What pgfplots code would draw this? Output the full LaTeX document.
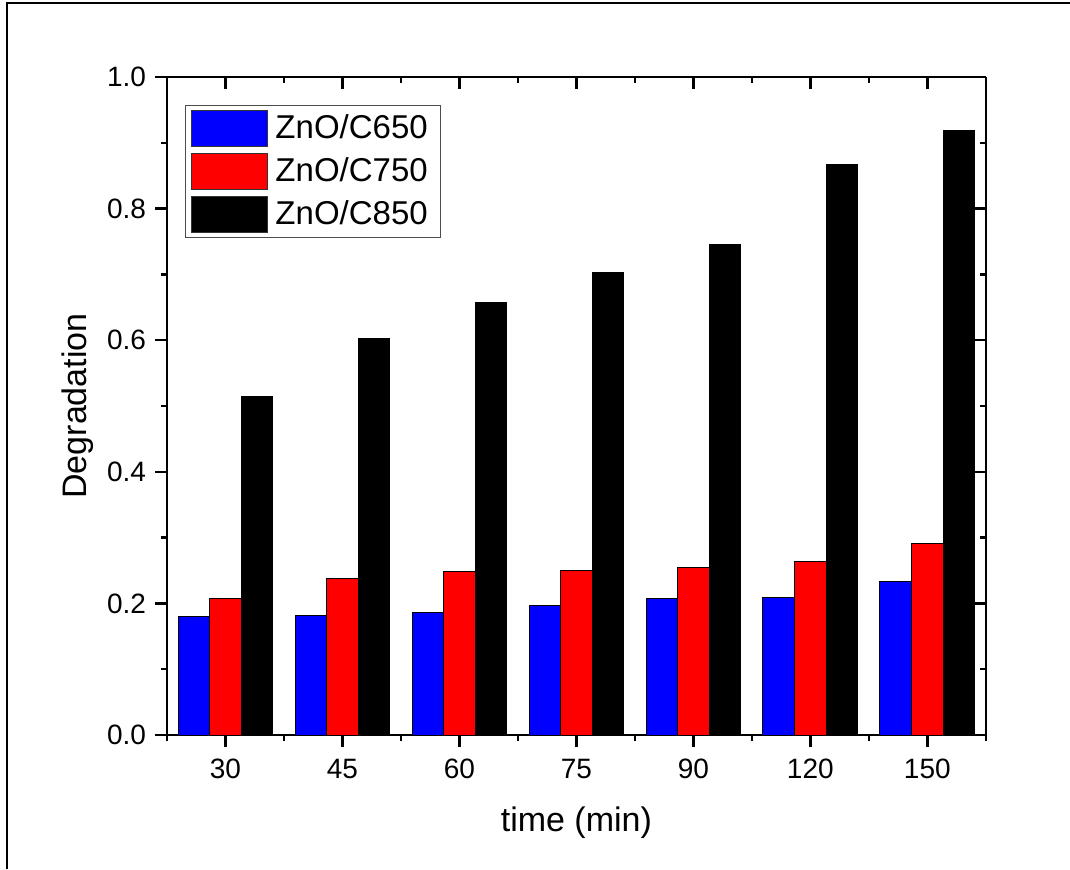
\documentclass[border=0pt]{standalone}
\usepackage{fontspec}
\setmainfont{Liberation Sans}
\usepackage{pgfplots}
\pgfplotsset{compat=1.18}

\definecolor{barblue}{RGB}{0,0,255}
\definecolor{barred}{RGB}{255,0,0}

\pgfplotsset{
  frameaxis/.style={
    scale only axis,
    width=409.4pt, height=329pt,
    xmin=-0.5, xmax=6.5, ymin=0, ymax=1,
    xtick={0,1,2,3,4,5,6},
    minor xtick={-0.5,0.5,1.5,2.5,3.5,4.5,5.5,6.5},
    ytick={0,0.2,0.4,0.6,0.8,1.0},
    minor ytick={0.1,0.3,0.5,0.7,0.9},
    major tick length=6pt, minor tick length=3pt,
    every tick/.style={black, line width=1.2pt},
    every minor tick/.style={black, line width=1.2pt},
    axis line style={line width=1.3pt},
    ticklabel style={font=\fontsize{14}{16}\selectfont},
  },
  patch/.style={legend image code/.code={\draw[##1, draw=black!80, line width=0.5pt] (0pt,-9.2pt) rectangle (38pt,9.2pt);}},
}

\begin{document}
\begin{tikzpicture}
\useasboundingbox (-83.5pt,-67pt) rectangle (451.5pt,367.5pt);
\draw[line width=1.1pt] (-80pt,-67pt) -- (-80pt,366pt) -- (451.5pt,366pt);

\begin{axis}[
  frameaxis,
  axis x line*=bottom, axis y line*=left,
  tick align=outside,
  xticklabels={30,45,60,75,90,120,150},
  yticklabels={0.0,0.2,0.4,0.6,0.8,1.0},
  xticklabel style={yshift=-2.5pt},
  yticklabel style={xshift=-1pt},
  xlabel={time (min)}, ylabel={Degradation},
  label style={font=\fontsize{17}{20}\selectfont},
  xlabel style={at={(axis description cs:0.5,0)}, anchor=center, yshift=-43.7pt},
  ylabel style={at={(axis description cs:0,0.5)}, anchor=center, yshift=44.5pt},
  ybar=0pt, bar width=0.27,
  legend style={at={(0,1)}, anchor=north west, xshift=9pt, yshift=-14pt,
    draw=black!70, line width=0.5pt, inner xsep=2.5pt, inner ysep=2pt,
    font=\fontsize{16.5}{18}\selectfont, row sep=2.6pt,
    nodes={inner ysep=0.5pt, inner xsep=4pt}},
  legend cell align=left,
]
\addplot[fill=barblue, draw=black, line width=0.5pt, patch] coordinates
  {(0,0.180) (1,0.181) (2,0.186) (3,0.197) (4,0.207) (5,0.209) (6,0.234)};
\addplot[fill=barred, draw=black, line width=0.5pt, patch] coordinates
  {(0,0.207) (1,0.238) (2,0.249) (3,0.250) (4,0.255) (5,0.264) (6,0.291)};
\addplot[fill=black, draw=black, line width=0.5pt, patch] coordinates
  {(0,0.515) (1,0.603) (2,0.658) (3,0.703) (4,0.745) (5,0.867) (6,0.918)};
\legend{ZnO/C650,ZnO/C750,ZnO/C850}
\end{axis}

\begin{axis}[
  frameaxis,
  axis x line*=top, axis y line*=right,
  tick align=inside,
  xticklabels={}, yticklabels={},
]
\end{axis}
\end{tikzpicture}
\end{document}
